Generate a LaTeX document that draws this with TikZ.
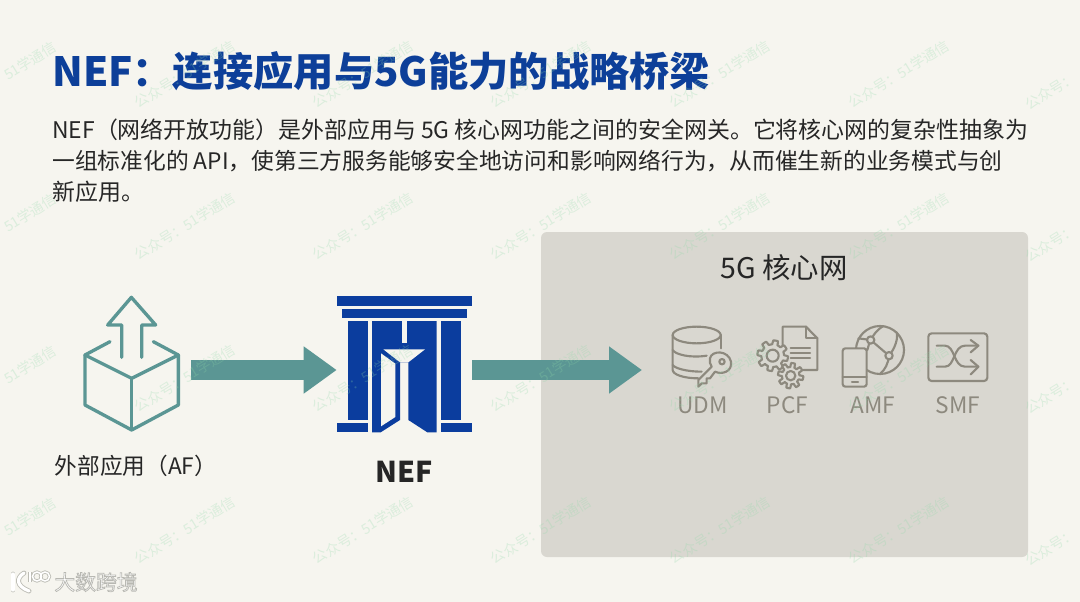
\documentclass[tikz,border=0pt]{standalone}
\usepackage{fontspec}
\setmainfont{Noto Sans CJK SC}
\usetikzlibrary{arrows.meta}
\definecolor{bgc}{HTML}{F6F5EF}
\definecolor{panelc}{HTML}{D9D7D0}
\definecolor{blue1}{HTML}{0B3D9E}
\definecolor{titlec}{HTML}{0D3F99}
\definecolor{teal1}{HTML}{5B9694}
\definecolor{iconc}{HTML}{8D897E}
\definecolor{inkc}{HTML}{262626}
\definecolor{markc}{HTML}{8FD8A8}
\definecolor{logoedge}{HTML}{BDBDB5}
\def\px{0.75pt}
\tikzset{
  flow/.style={draw=teal1,line width=19.5*\px,-{Triangle[length=33*\px,width=45*\px,color=teal1]}},
  body/.style={anchor=base west,inner sep=0pt,text=inkc,font=\fontsize{17.2pt}{20pt}\selectfont},
  lab/.style={anchor=center,inner sep=0pt,text=iconc,font=\fontsize{17pt}{20pt}\selectfont},
  wm/.style={anchor=center,inner sep=0pt,text=markc,opacity=.26,rotate=31.5,font=\fontsize{10.6pt}{13pt}\selectfont},
  icon/.style={draw=iconc,line width=1.6pt,line join=round,line cap=round},
  tealline/.style={draw=teal1,line width=2.5pt,line join=round,line cap=round},
  holder/.style={inner sep=0pt,outer sep=0pt,minimum height=30*\px},
}
\begin{document}
\begin{tikzpicture}[x=0.75pt,y=-0.75pt]
\useasboundingbox (0,0) rectangle (1080,602);
\fill[bgc] (0,0) rectangle (1080,602);
% panel
\node[fill=panelc,rounded corners=4.5pt,inner sep=0pt,outer sep=0pt,minimum width=487*\px,minimum height=325*\px] (core) at (784.5,394.5) {};
\node[anchor=center,inner sep=0pt,text=inkc,font=\fontsize{21.3pt}{24pt}\selectfont] (coretitle) at (784,268) {5G 核心网};
% title and body
\node[anchor=base west,inner sep=0pt,text=titlec,font=\fontsize{30.2pt}{34pt}\selectfont\bfseries] (title) at (52,87) {NEF：连接应用与5G能力的战略桥梁};
\node[body] (l1) at (52,139) {NEF（网络开放功能）是外部应用与 5G 核心网功能之间的安全网关。它将核心网的复杂性抽象为};
\node[body,font=\fontsize{17.07pt}{20pt}\selectfont] (l2) at (52,170) {一组标准化的 API，使第三方服务能够安全地访问和影响网络行为，从而催生新的业务模式与创};
\node[body] (l3) at (52,201) {新应用。};
% holders for connectors
\node[holder,minimum width=95*\px] (af) at (131.5,370) {};
\node[holder,minimum width=135.6*\px] (nef) at (404.5,370) {};
\coordinate (coreport) at (642,370);
\draw[flow,shorten <=12*\px] (af.east) -- (nef.west);
\draw[flow] (nef.east) -- (coreport);
% AF icon
\begin{scope}[shift={(60,280)},x=0.25pt,y=-0.25pt]
\draw[tealline] (150,185) -- (75,225) -- (215,295) -- (355,225) -- (280,185);
\draw[tealline] (75,225) -- (75,375) -- (215,450) -- (355,375) -- (355,225);
\draw[tealline] (215,295) -- (215,450);
\draw[tealline] (185,232) -- (185,135) -- (143,135) -- (214,52) -- (287,135) -- (245,135) -- (245,232);
\end{scope}
\node[anchor=center,inner sep=0pt,text=inkc,font=\fontsize{17pt}{20pt}\selectfont] (aflabel) at (136,466) {外部应用（AF）};
% NEF icon
\begin{scope}[shift={(320,285)},x=0.25pt,y=-0.25pt]
\fill[blue1] (50,33) rectangle (457,62);
\fill[blue1] (67,72) rectangle (440,98);
\fill[blue1] (83,108) rectangle (145,404);
\fill[blue1] (363,108) rectangle (424,404);
\fill[blue1] (50,415) rectangle (145,442);
\fill[blue1] (362,415) rectangle (457,442);
\fill[blue1] (156,108) -- (350,108) -- (350,442) -- (322,442) -- (265,405) -- (265,232) -- (240,232) -- (240,405) -- (182,442) -- (156,442) -- cycle;
\fill[bgc] (245,108) rectangle (260,173);
\fill[bgc] (190,193) -- (315,193) -- (265,232) -- (240,232) -- cycle;
\fill[bgc] (183,205) -- (226,236) -- (226,396) -- (183,424) -- cycle;
\end{scope}
\node[anchor=center,inner sep=0pt,text=inkc,font=\fontsize{21.5pt}{26pt}\selectfont\bfseries] (neflabel) at (404.5,472) {NEF};
% UDM + PCF icons
\begin{scope}[shift={(660,315)},x=0.25pt,y=-0.25pt]
\draw[icon] (110,60) ellipse [x radius=72,y radius=25];
\draw[icon] (38,60) -- (38,165) .. controls (38,178) and (70,190) .. (115,190);
\draw[icon] (182,60) -- (182,100);
\draw[icon] (38,105) .. controls (45,118) and (90,130) .. (140,122);
\draw[icon] (38,150) .. controls (45,160) and (80,170) .. (125,170);
\draw[icon,fill=panelc] (150,130) .. controls (155,105) and (205,105) .. (213,140) .. controls (218,170) and (185,180) .. (165,170) -- (150,190) -- (140,190) -- (140,205) -- (125,205) -- (115,215) -- (115,195) -- (155,155) .. controls (150,148) and (148,140) .. (150,130) -- cycle;
\draw[icon] (186,140) circle [radius=8];
% document
\draw[icon] (368,135) -- (368,35) -- (438,35) -- (472,70) -- (472,165) -- (430,165);
\draw[icon] (438,35) -- (438,70) -- (472,70);
\draw[icon] (392,98) -- (450,98);
\draw[icon] (392,113) -- (450,113);
\draw[icon] (392,128) -- (450,128);
% gears
\draw[icon,fill=panelc] plot[domain=0:360,samples=145] ({338+(40+6*max(-1,min(1,3*sin(8*\x))))*cos(\x)},{122+(40+6*max(-1,min(1,3*sin(8*\x))))*sin(\x)}) -- cycle;
\draw[icon] (338,122) circle [radius=18];
\draw[icon,fill=panelc] plot[domain=0:360,samples=145] ({392+(32+6*max(-1,min(1,3*sin(8*\x))))*cos(\x)},{182+(32+6*max(-1,min(1,3*sin(8*\x))))*sin(\x)}) -- cycle;
\draw[icon] (392,182) circle [radius=14];
\end{scope}
% AMF + SMF icons
\begin{scope}[shift={(830,315)},x=0.25pt,y=-0.25pt]
\draw[icon] (150,105) circle [radius=72];
\draw[icon] (85,70) -- (122,75) -- (177,122);
\draw[icon] (122,75) .. controls (130,60) and (140,45) .. (160,33);
\draw[icon] (177,122) .. controls (195,100) and (205,70) .. (200,52);
\draw[icon] (177,122) .. controls (175,145) and (165,165) .. (150,177);
\draw[icon] (122,75) .. controls (118,85) and (114,95) .. (112,105);
\draw[icon,fill=panelc] (122,75) circle [radius=11];
\draw[icon,fill=panelc] (177,122) circle [radius=11];
\draw[icon,fill=panelc,rounded corners=2pt] (38,100) rectangle (110,215);
\draw[icon] (38,185) -- (110,185);
\draw[icon] (66,201) -- (84,201);
\draw[icon,rounded corners=2.5pt] (295,55) rectangle (472,198);
\draw[icon] (320,92) -- (345,92) .. controls (375,92) and (370,155) .. (405,155) -- (445,155);
\draw[icon] (320,155) -- (345,155) .. controls (375,155) and (370,92) .. (405,92) -- (445,92);
\draw[icon] (422,75) -- (445,92) -- (422,112);
\draw[icon] (422,135) -- (445,155) -- (422,178);
\end{scope}
\node[lab] (udm) at (702.5,405.5) {UDM};
\node[lab] (pcf) at (787.5,405.5) {PCF};
\node[lab] (amf) at (873,405.5) {AMF};
\node[lab] (smf) at (958,405.5) {SMF};
% watermark grid
\foreach \yy in {74,226,378,530}{
  \node[wm] at (30,\yy-13) {51学通信};
  \foreach \xx in {185,363,541,720,899}{
    \node[wm] at (\xx,\yy) {公众号：51学通信};
  }
  \node[wm] at (1051,\yy+17) {公众号：};
}
% logo
\foreach \c/\w in {logoedge/1.3,white/0}{
  \draw[\c,line width={(2.4+\w)*1pt},line cap=round] (13,574) -- (13,590);
  \draw[\c,line width={(2.4+\w)*1pt},line cap=round] (24,573) .. controls (16,578) and (16,586) .. (29,591);
  \draw[\c,line width={(1.1+\w)*1pt}] (30,572) -- (30,582);
  \draw[\c,line width={(1.1+\w)*1pt}] (37,576.5) circle [radius=4.5];
  \draw[\c,line width={(1.1+\w)*1pt}] (45,576.5) circle [radius=4.5];
}
\node[anchor=center,inner sep=0pt,text=white,font=\fontsize{15.6pt}{20pt}\selectfont] (logo) at (96,582) {\special{pdf:code q 2 Tr 0.55 w 0.72 0.72 0.70 RG}大数跨境\special{pdf:code Q}};
\end{tikzpicture}
\end{document}
